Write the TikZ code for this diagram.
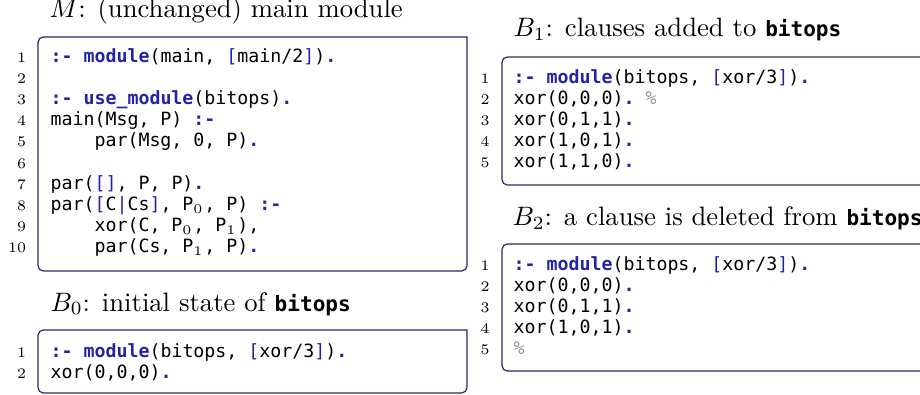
\documentclass[tikz,border=0pt]{standalone}
\usepackage{fontspec}
\setmonofont{DejaVu Sans Mono}
\usetikzlibrary{positioning}

\definecolor{frmcol}{RGB}{40,40,110}
\definecolor{kwblue}{RGB}{35,35,165}
\definecolor{cmgray}{RGB}{150,150,150}

\newcommand\kw[1]{{\bfseries\color{kwblue}#1}}
\newcommand\kp[1]{{\color{kwblue}#1}}
\newcommand\kc[1]{{\color{cmgray}#1}}
\newcommand\psub[1]{\makebox[0.602em][l]{\raisebox{-1.2pt}{\fontsize{5}{5}\rmfamily #1}}}
\newcommand\ind{\hspace*{2.408em}}
\newcommand\bitops{{\fontsize{7.9}{10}\ttfamily\bfseries bitops}}

\begin{document}
\begin{tikzpicture}[
  x=0.375pt, y=-0.375pt,
  ttl/.style={anchor=base west, inner sep=0pt, font=\fontsize{10}{12}\selectfont},
  lst/.style={anchor=base west, inner sep=0pt, align=left, font=\fontsize{6.85}{7.91}\ttfamily},
  lno/.style={anchor=base east, inner sep=0pt, align=right, font=\fontsize{5.5}{7.91}\selectfont},
  lframe/.style={draw=frmcol, line width=0.45pt, rounded corners=2pt, line cap=rect}
]
\clip (0,0) rectangle (920,395);

% Main module (nodes placed at the baseline of their last line)
\node[ttl] (mttl) at (49,18) {$M$: (unchanged) main module};
\draw[lframe] (467,37) -- (467,271) -- (38,271) -- (38,37) -- (467,37);
\node[lst] (mcode) at (50,252.4) {\kw{:-} \kw{module}(main, \kp{[}main/2\kp{]})\kw{.}\\
  \mbox{}\\
  \kw{:-} \kw{use\_module}(bitops)\kw{.}\\
  main(Msg, P) \kw{:-}\\
  \ind par(Msg, 0, P)\kw{.}\\
  \mbox{}\\
  par(\kp{[]}, P, P)\kw{.}\\
  par(\kp{[}C\kp{|}Cs\kp{]}, P\psub0, P) \kw{:-}\\
  \ind xor(C, P\psub0, P\psub1),\\
  \ind par(Cs, P\psub1, P)\kw{.}};
\node[lno] (mnum) at (26.5,252.4) {1\\2\\3\\4\\5\\6\\7\\8\\9\\10};

% B0
\node[ttl] (b0ttl) at (50,311) {$B_0$: initial state of \bitops};
\draw[lframe] (467,330) -- (467,393) -- (38,393) -- (38,330) -- (467,330);
\node[lst] (b0code) at (50,378.1) {\kw{:-} \kw{module}(bitops, \kp{[}xor/3\kp{]})\kw{.}\\
  xor(0,0,0)\kw{.}};
\node[lno] (b0num) at (26.5,378.1) {1\\2};

% B1
\node[ttl] (b1ttl) at (513,37) {$B_1$: clauses added to \bitops};
\draw[lframe] (960,57) -- (960,185) -- (502,185) -- (502,57) -- (960,57);
\node[lst] (b1code) at (513,167.4) {\kw{:-} \kw{module}(bitops, \kp{[}xor/3\kp{]})\kw{.}\\
  xor(0,0,0)\kw{.} \kc{\%}\\
  xor(0,1,1)\kw{.}\\
  xor(1,0,1)\kw{.}\\
  xor(1,1,0)\kw{.}};
\node[lno] (b1num) at (490,167.4) {1\\2\\3\\4\\5};

% B2
\node[ttl] (b2ttl) at (512,226) {$B_2$: a clause is deleted from \bitops};
\draw[lframe] (960,244) -- (960,371) -- (502,371) -- (502,244) -- (960,244);
\node[lst] (b2code) at (513,354.4) {\kw{:-} \kw{module}(bitops, \kp{[}xor/3\kp{]})\kw{.}\\
  xor(0,0,0)\kw{.}\\
  xor(0,1,1)\kw{.}\\
  xor(1,0,1)\kw{.}\\
  \kc{\%}};
\node[lno] (b2num) at (490,354.4) {1\\2\\3\\4\\5};
\end{tikzpicture}
\end{document}
